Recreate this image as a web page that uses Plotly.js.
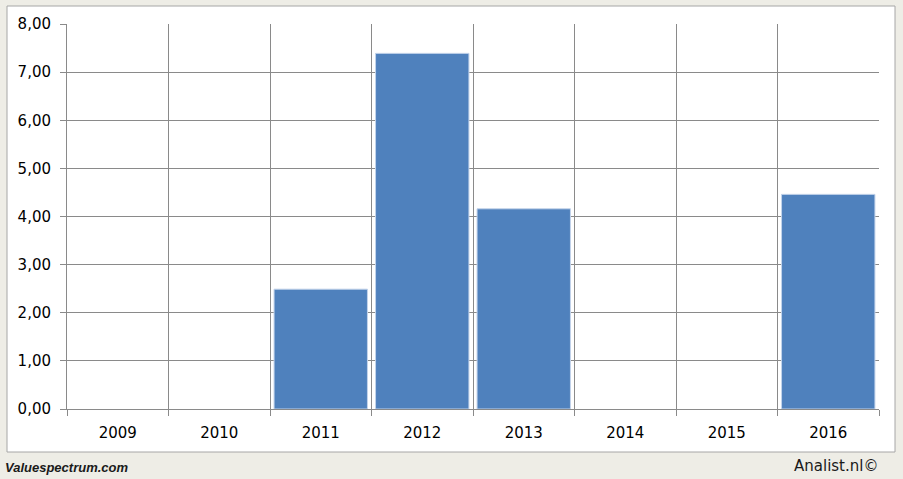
<!DOCTYPE html>
<html><head><meta charset="utf-8">
<script src="https://cdn.plot.ly/plotly-3.0.1.min.js"></script>
<style>html,body{margin:0;padding:0;background:#EEEDE6;}#chart{width:903px;height:479px;}</style>
</head><body><div id="chart"></div>
<script>
const years = ['2009','2010','2011','2012','2013','2014','2015','2016'];
const values = [0, 0, 2.49, 7.39, 4.16, 0, 0, 4.46];
const yTicks = [0,1,2,3,4,5,6,7,8];

const W = 903, H = 479, L = 67, R = 879, T = 24, B = 409;
const pw = R - L, ph = B - T;
const px = x => (x - L) / pw;
const py = y => (B - y) / ph;

const trace = {
  type: 'bar', x: years, y: values,
  marker: {color: '#4F81BD', line: {color: '#C3D3EA', width: values.map(v => v > 0 ? 1 : 0)}},
  hoverinfo: 'x+y'
};
const tickFont = {family: 'DejaVu Sans, Verdana, sans-serif', size: 15, color: '#000'};
const layout = {
  width: W, height: H,
  margin: {l: L, r: W - R, t: T, b: H - B, pad: 0},
  paper_bgcolor: '#EEEDE6', plot_bgcolor: 'rgba(0,0,0,0)',
  separators: ',.',
  bargap: 0.08,
  showlegend: false,
  font: tickFont,
  xaxis: {
    type: 'category', tickson: 'boundaries', showgrid: true, gridcolor: '#8A8A8A', gridwidth: 1,
    ticks: 'outside', ticklen: 6, tickcolor: '#8A8A8A', showline: true, linecolor: '#8A8A8A',
    zeroline: false, fixedrange: true, tickfont: tickFont, ticklabelstandoff: 10
  },
  yaxis: {
    range: [0, 8], tickvals: yTicks, tickformat: '.2f', showgrid: true, gridcolor: '#8A8A8A', gridwidth: 1,
    ticks: 'outside', ticklen: 6, tickcolor: '#8A8A8A', showline: true, linecolor: '#8A8A8A',
    zeroline: false, fixedrange: true, tickfont: tickFont, ticklabelstandoff: 6
  },
  shapes: [
    {type: 'rect', xref: 'paper', yref: 'paper', layer: 'below',
     x0: px(7), x1: px(895), y0: py(452), y1: py(6),
     fillcolor: '#FFFFFF', line: {color: '#A6A6A6', width: 1}}
  ],
  annotations: [
    {xref: 'paper', yref: 'paper', x: px(3), y: py(467), xanchor: 'left', yanchor: 'middle',
     text: '<b><i>Valuespectrum.com</i></b>', showarrow: false,
     font: {family: 'Liberation Sans, Arial, sans-serif', size: 13, color: '#1a1a1a'}},
    {xref: 'paper', yref: 'paper', x: px(880), y: py(466), xanchor: 'right', yanchor: 'middle',
     text: 'Analist.nl©', showarrow: false,
     font: {family: 'DejaVu Sans, Verdana, sans-serif', size: 15, color: '#1a1a1a'}}
  ]
};
Plotly.newPlot('chart', [trace], layout, {displayModeBar: false, staticPlot: true});
</script></body></html>
